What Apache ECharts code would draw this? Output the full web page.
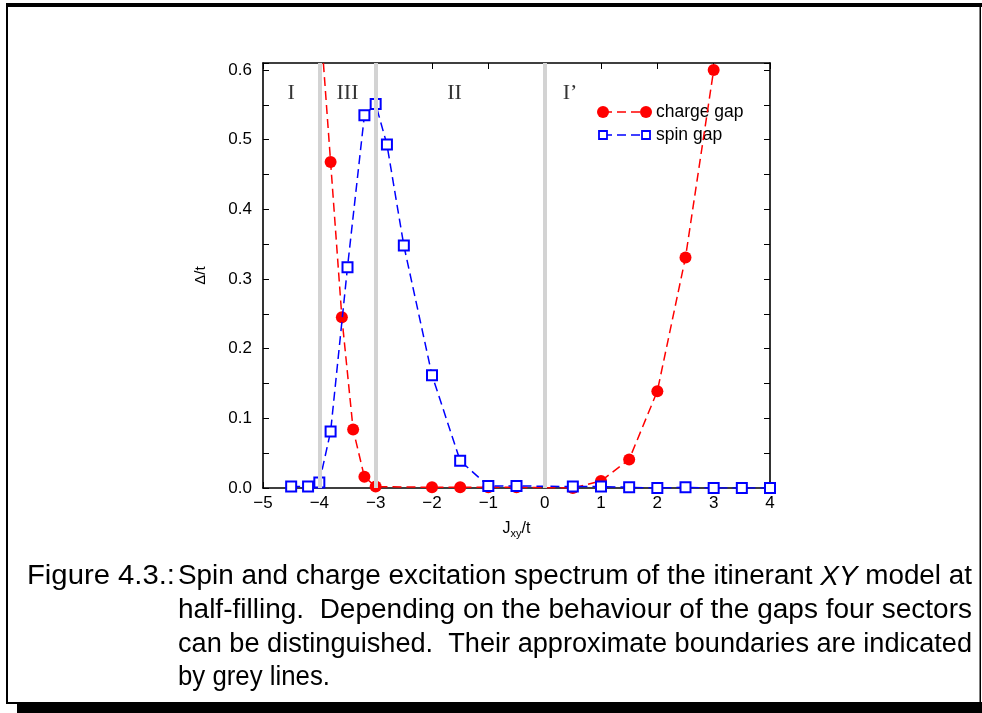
<!DOCTYPE html>
<html><head><meta charset="utf-8">
<script src="https://cdn.jsdelivr.net/npm/echarts@6/dist/echarts.min.js"></script>
<style>html,body{margin:0;padding:0;background:#fff}#c{width:982px;height:713px}</style>
</head><body><div id="c"></div>
<script>
// ---- data ----
const chargeX = [-4.0, -3.8, -3.6, -3.4, -3.2, -3.0, -2.0, -1.5, -1.0, -0.5, 0.5, 1.0, 1.5, 2.0, 2.5, 3.0];
const chargeY = [0.69, 0.468, 0.245, 0.084, 0.016, 0.002, 0.001, 0.001, 0.001, 0.001, 0.0, 0.010, 0.041, 0.139, 0.331, 0.600];
const spinX = [-4.5, -4.2, -4.0, -3.8, -3.5, -3.2, -3.0, -2.8, -2.5, -2.0, -1.5, -1.0, -0.5, 0.5, 1.0, 1.5, 2.0, 2.5, 3.0, 3.5, 4.0];
const spinY = [0.002, 0.002, 0.008, 0.081, 0.317, 0.535, 0.551, 0.493, 0.348, 0.162, 0.039, 0.003, 0.003, 0.002, 0.002, 0.001, 0.000, 0.001, 0.000, 0.000, 0.000];
const boundaries = [-4, -3, 0];
const regionNames = ['I', 'III', 'II', 'I\u2019'];
const regionX = [-4.5, -3.5, -1.6, 0.45];
const regionY = [0.566, 0.566, 0.566, 0.566];
const xMin = -5, xMax = 4, xStep = 1;
const yMin = 0, yMax = 0.61, yStep = 0.1;
const seriesNames = ['charge gap', 'spin gap'];
const captionLabel = 'Figure 4.3.:';
const captionLines = [
  ['Spin and charge excitation spectrum of the itinerant ', 'XY', ' model at'],
  ['half-filling.  Depending on the behaviour of the gaps four sectors'],
  ['can be distinguished.  Their approximate boundaries are indicated'],
  ['by grey lines.']
];

// ---- chart ----
const FONT = 'Liberation Sans';
const CAP = 27;
const chart = echarts.init(document.getElementById('c'), null, {renderer: 'canvas'});
const zip = (xs, ys) => xs.map((x, i) => [x, ys[i]]);
const minus = v => String(v).replace('-', '\u2212');

const axisLineStyle = {color: '#000', width: 1.6};
const baseX = {
  type: 'value', min: xMin, max: xMax, interval: xStep,
  axisLine: {show: true, onZero: false, lineStyle: axisLineStyle},
  axisTick: {show: true, inside: true, length: 6, lineStyle: {color: '#000', width: 1}},
  splitLine: {show: false}
};
const baseY = {
  type: 'value', min: yMin, max: yMax, interval: yStep,
  axisLine: {show: true, onZero: false, lineStyle: axisLineStyle},
  axisTick: {show: true, inside: true, length: 6, lineStyle: {color: '#000', width: 1}},
  minorTick: {show: true, splitNumber: 2, length: 6, lineStyle: {color: '#000', width: 1}},
  splitLine: {show: false}, minorSplitLine: {show: false}
};

// caption measurement
const ctx = document.createElement('canvas').getContext('2d');
function measure(parts) {
  let w = 0;
  parts.forEach((p, i) => {
    ctx.font = (parts.length === 3 && i === 1 ? 'italic ' : '') + CAP + 'px "' + FONT + '"';
    w += ctx.measureText(p).width;
  });
  return w;
}
const capLeft = 178, capRight = 972;
const capY = [577, 611, 644.5, 678];
const captionGraphics = captionLines.map((parts, i) => {
  const w = measure(parts);
  const sx = i < 3 ? (capRight - capLeft) / w : 152 / w;
  const text = parts.length === 3 ? parts[0] + '{i|' + parts[1] + '}' + parts[2] : parts[0];
  return {
    type: 'text', x: capLeft, y: capY[i], scaleX: sx, originX: 0, originY: 0,
    style: {text: text, font: CAP + 'px "' + FONT + '"', fill: '#000', verticalAlign: 'middle', align: 'left',
      rich: {i: {fontStyle: 'italic', fontSize: CAP, fontFamily: FONT, fill: '#000'}}}
  };
});
const labelW = measure([captionLabel]);

const option = {
  backgroundColor: '#fff',
  animation: false,
  textStyle: {fontFamily: FONT},
  grid: {left: 263, right: 212, top: 63, bottom: 225, containLabel: false},
  xAxis: [
    Object.assign({}, baseX, {
      position: 'bottom',
      axisLabel: {show: true, color: '#000', fontSize: 17, margin: 7, fontFamily: FONT, formatter: minus},
      name: 'J{s|xy}/t', nameLocation: 'middle', nameGap: 31,
      nameTextStyle: {color: '#000', fontSize: 16, fontFamily: FONT,
        rich: {s: {fontSize: 11, verticalAlign: 'bottom', padding: [9, 0, 0, 0], fontFamily: FONT, color: '#000'}}}
    }),
    Object.assign({}, baseX, {position: 'top', axisLabel: {show: false}})
  ],
  yAxis: [
    Object.assign({}, baseY, {
      position: 'left',
      axisLabel: {show: true, color: '#000', fontSize: 17, margin: 11, fontFamily: FONT,
        formatter: v => (Math.abs(v * 10 - Math.round(v * 10)) < 1e-6 ? v.toFixed(1) : '')},
      name: '\u0394/t', nameLocation: 'middle', nameGap: 55, nameRotate: 90,
      nameTextStyle: {color: '#000', fontSize: 15, fontFamily: FONT}
    }),
    Object.assign({}, baseY, {position: 'right', axisLabel: {show: false}})
  ],
  series: [
    {
      name: 'boundaries', type: 'line', data: [], z: 1, silent: true,
      markLine: {
        silent: true, symbol: ['none', 'none'], label: {show: false},
        lineStyle: {color: '#d3d3d3', width: 4, type: 'solid'},
        data: boundaries.map(b => ({xAxis: b}))
      }
    },
    {
      name: 'regions', type: 'scatter', z: 2, silent: true,
      data: regionX.map((x, i) => ({value: [x, regionY[i]], name: regionNames[i]})),
      symbolSize: 0,
      label: {show: true, position: 'inside', formatter: p => p.name, color: '#000',
        fontFamily: 'Liberation Serif', fontSize: 22}
    },
    {
      name: seriesNames[0], type: 'line', z: 3, clip: true,
      data: zip(chargeX, chargeY),
      symbol: 'circle', symbolSize: 12, showAllSymbol: true,
      itemStyle: {color: '#ff0000', borderWidth: 0},
      lineStyle: {color: '#ff0000', width: 1.5, type: [9, 5]}
    },
    {
      name: seriesNames[1], type: 'line', z: 4, clip: true,
      data: zip(spinX, spinY),
      symbol: 'rect', symbolSize: 10, showAllSymbol: true,
      itemStyle: {color: '#ffffff', borderColor: '#0000ff', borderWidth: 2},
      lineStyle: {color: '#0000ff', width: 1.5, type: [9, 5]}
    }
  ],
  graphic: [
    // frame
    {type: 'rect', shape: {x: 6, y: 3, width: 976, height: 4}, style: {fill: '#000'}, silent: true},
    {type: 'rect', shape: {x: 6, y: 3, width: 2, height: 701}, style: {fill: '#000'}, silent: true},
    {type: 'rect', shape: {x: 979.5, y: 3, width: 1.5, height: 701}, style: {fill: '#000'}, silent: true},
    {type: 'rect', shape: {x: 6, y: 702, width: 976, height: 2}, style: {fill: '#000'}, silent: true},
    {type: 'rect', shape: {x: 17, y: 703, width: 965, height: 10}, style: {fill: '#000'}, silent: true},
    // legend
    {type: 'line', shape: {x1: 603, y1: 112, x2: 646, y2: 112}, style: {stroke: '#ff0000', lineWidth: 1.5, lineDash: [9, 5]}},
    {type: 'circle', shape: {cx: 603, cy: 112, r: 6}, style: {fill: '#ff0000'}},
    {type: 'circle', shape: {cx: 646, cy: 112, r: 6}, style: {fill: '#ff0000'}},
    {type: 'text', x: 656, y: 112, style: {text: seriesNames[0], font: '17.5px "' + FONT + '"', fill: '#000', verticalAlign: 'middle'}},
    {type: 'line', shape: {x1: 603, y1: 135, x2: 646, y2: 135}, style: {stroke: '#0000ff', lineWidth: 1.5, lineDash: [9, 5]}},
    {type: 'rect', shape: {x: 599, y: 131, width: 8, height: 8}, style: {fill: '#fff', stroke: '#0000ff', lineWidth: 1.8}},
    {type: 'rect', shape: {x: 642, y: 131, width: 8, height: 8}, style: {fill: '#fff', stroke: '#0000ff', lineWidth: 1.8}},
    {type: 'text', x: 656, y: 135, style: {text: seriesNames[1], font: '17.5px "' + FONT + '"', fill: '#000', verticalAlign: 'middle'}},
    // caption
    {type: 'text', x: 27, y: capY[0], scaleX: 148 / labelW, originX: 0, originY: 0,
      style: {text: captionLabel, font: CAP + 'px "' + FONT + '"', fill: '#000', verticalAlign: 'middle'}}
  ].concat(captionGraphics)
};
chart.setOption(option);
</script>
</body></html>
